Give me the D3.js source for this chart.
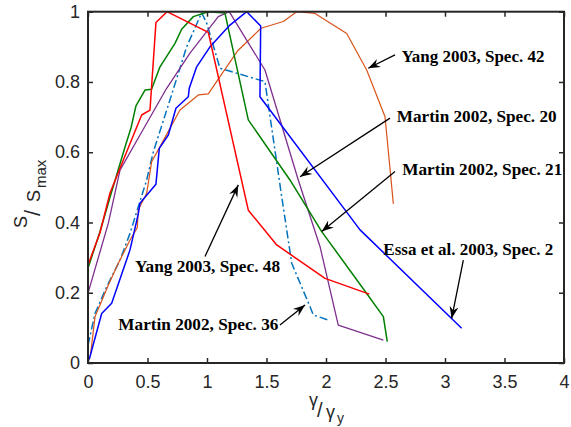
<!DOCTYPE html>
<html><head><meta charset="utf-8">
<script src="https://cdn.jsdelivr.net/npm/d3@7"></script>
<style>body{margin:0;background:#fff}svg{display:block}</style>
</head><body>
<svg id="c" width="571" height="427"></svg>
<script>
// ---- data (gamma/gamma_y , S/Smax) ----
const yang48 = [[0,0.279],[0.10,0.37],[0.185,0.484],[0.297,0.578],[0.451,0.706],[0.521,0.72],[0.571,0.969],[0.664,1.0],[1.011,0.941],[1.347,0.435],[1.586,0.336],[1.992,0.241],[2.364,0.196]];
const martin21 = [[0,0.27],[0.10,0.373],[0.185,0.472],[0.311,0.615],[0.361,0.669],[0.403,0.732],[0.479,0.777],[0.534,0.779],[0.605,0.843],[0.731,0.91],[0.787,0.95],[0.885,0.986],[1.011,1.0],[1.151,0.996],[1.347,0.692],[1.697,0.521],[1.964,0.374],[2.342,0.198],[2.482,0.132],[2.515,0.061]];
const martin20 = [[0,0.199],[0.171,0.398],[0.269,0.549],[0.437,0.649],[0.661,0.782],[0.857,0.882],[1.095,0.986],[1.187,1.0],[1.487,0.834],[1.767,0.521],[1.95,0.331],[2.103,0.108],[2.482,0.065]];
const essa2 = [[0.01,0.01],[0.115,0.141],[0.199,0.17],[0.353,0.322],[0.423,0.425],[0.437,0.455],[0.507,0.483],[0.571,0.509],[0.599,0.611],[0.675,0.649],[0.739,0.725],[0.843,0.758],[0.851,0.782],[0.913,0.843],[1.025,0.9],[1.193,0.962],[1.334,1.0],[1.451,0.959],[1.445,0.758],[2.286,0.379],[3.14,0.099]];
const yang42 = [[0.02,0.02],[0.059,0.132],[0.101,0.165],[0.171,0.222],[0.255,0.284],[0.353,0.35],[0.414,0.385],[0.423,0.436],[0.493,0.483],[0.535,0.573],[0.605,0.616],[0.773,0.72],[0.927,0.763],[1.011,0.766],[1.109,0.815],[1.256,0.888],[1.454,0.953],[1.641,0.972],[1.754,1.0],[1.908,0.995],[2.174,0.938],[2.342,0.834],[2.496,0.701],[2.566,0.453]];
const martin36 = [[0,0.051],[0.059,0.141],[0.157,0.217],[0.269,0.293],[0.353,0.369],[0.493,0.521],[0.549,0.601],[0.689,0.749],[0.829,0.9],[0.955,0.997],[0.997,0.968],[1.109,0.839],[1.487,0.801],[1.628,0.473],[1.712,0.284],[1.866,0.16],[1.893,0.137],[2.019,0.122]];

const xTicks = [0,0.5,1,1.5,2,2.5,3,3.5,4];
const yTicks = [0,0.2,0.4,0.6,0.8,1];
const xTickLabels = ["0","0.5","1","1.5","2","2.5","3","3.5","4"];
const yTickLabels = ["0","0.2","0.4","0.6","0.8","1"];

// annotations: label, text anchor (data), arrow tail (data), arrow tip (data)
const annLabels = ["Yang 2003, Spec. 42","Martin 2002, Spec. 20","Martin 2002, Spec. 21","Essa et al. 2003, Spec. 2","Yang 2003, Spec. 48","Martin 2002, Spec. 36"];
const annText = [[2.634,0.858],[2.594,0.687],[2.641,0.535],[2.482,0.307],[0.395,0.26],[0.255,0.094]];
const annTail = [[2.58,0.877],[2.538,0.697],[2.58,0.545],[3.154,0.293],[0.983,0.303],[1.613,0.108]];
const annTip  = [[2.355,0.839],[1.782,0.53],[1.964,0.374],[3.056,0.127],[1.263,0.507],[1.824,0.165]];
const annWidth = [143,160,160,170,145,160];

// ---- drawing ----
const svg = d3.select("#c");
const x = d3.scaleLinear().domain([0,4]).range([88,564]);
const y = d3.scaleLinear().domain([0,1]).range([363,11.7]);
const axisColor = "#262626";

const series = [
  {d: martin36, c:"#0072bd", w:1.5, dash:"8,3,2,3"},
  {d: yang42,   c:"#d95319", w:1.2, dash:null},
  {d: martin20, c:"#7e2f8e", w:1.3, dash:null},
  {d: martin21, c:"#008000", w:1.5, dash:null},
  {d: essa2,    c:"#0000ff", w:1.5, dash:null},
  {d: yang48,   c:"#ff0000", w:1.5, dash:null}
];
const line = d3.line().x(d=>x(d[0])).y(d=>y(d[1]));
series.forEach(s=>{
  svg.append("path").attr("d", line(s.d)).attr("fill","none")
    .attr("stroke", s.c).attr("stroke-width", s.w)
    .attr("stroke-dasharray", s.dash).attr("stroke-linejoin","round");
});

// axes
function styleAxis(g){
  g.select(".domain").remove();
  g.selectAll(".tick line").attr("stroke",axisColor).attr("stroke-width",1.5);
  g.selectAll(".tick text").attr("fill",axisColor)
    .attr("font-family","'Liberation Sans', Arial, sans-serif").attr("font-size",18);
}
svg.append("g").attr("transform","translate(0,363)")
  .call(d3.axisBottom(x).tickValues(xTicks).tickFormat((d,i)=>xTickLabels[i]).tickSizeInner(-5).tickSizeOuter(0).tickPadding(12))
  .call(styleAxis);
svg.append("g").attr("transform","translate(0,11.7)")
  .call(d3.axisTop(x).tickValues(xTicks).tickFormat("").tickSizeInner(-5).tickSizeOuter(0))
  .call(styleAxis);
svg.append("g").attr("transform","translate(88,0)")
  .call(d3.axisLeft(y).tickValues(yTicks).tickFormat((d,i)=>yTickLabels[i]).tickSizeInner(-5).tickSizeOuter(0).tickPadding(8))
  .call(styleAxis);
svg.append("g").attr("transform","translate(564,0)")
  .call(d3.axisRight(y).tickValues(yTicks).tickFormat("").tickSizeInner(-5).tickSizeOuter(0))
  .call(styleAxis);
svg.append("rect").attr("x",x(0)).attr("y",y(1)).attr("width",x(4)-x(0)).attr("height",y(0)-y(1))
  .attr("fill","none").attr("stroke",axisColor).attr("stroke-width",2);

// arrow marker
svg.append("defs").append("marker").attr("id","ah").attr("viewBox","-12 -6 14 12")
  .attr("markerWidth",14).attr("markerHeight",12).attr("refX",0).attr("refY",0)
  .attr("markerUnits","userSpaceOnUse").attr("orient","auto")
  .append("path").attr("d","M0,0 L-12,-4.5 L-8,0 L-12,4.5 Z").attr("fill","#000");

annLabels.forEach((t,i)=>{
  svg.append("line").attr("x1",x(annTail[i][0])).attr("y1",y(annTail[i][1]))
    .attr("x2",x(annTip[i][0])).attr("y2",y(annTip[i][1]))
    .attr("stroke","#000").attr("stroke-width",1.3).attr("marker-end","url(#ah)");
  svg.append("text").attr("x",x(annText[i][0])).attr("y",y(annText[i][1]))
    .attr("font-family","'Liberation Serif','Times New Roman',serif").attr("font-weight","bold")
    .attr("font-size",17).attr("fill","#000")
    .attr("textLength",annWidth[i]).attr("lengthAdjust","spacingAndGlyphs").text(t);
});

// axis titles
const lf = "'Liberation Sans', Arial, sans-serif";
const xl = svg.append("g").attr("fill",axisColor).attr("font-family",lf);
xl.append("text").attr("x",309).attr("y",406).attr("font-size",18).text("γ");
xl.append("text").attr("x",317).attr("y",417).attr("font-size",20).text("/");
xl.append("text").attr("x",326).attr("y",418).attr("font-size",18).text("γ");
xl.append("text").attr("x",337).attr("y",423).attr("font-size",14).text("y");

const yl = svg.append("g").attr("transform","rotate(-90)").attr("fill",axisColor).attr("font-family",lf);
yl.append("text").attr("x",-228).attr("y",27).attr("font-size",18).text("S");
yl.append("text").attr("x",-216).attr("y",40).attr("font-size",22).text("/");
yl.append("text").attr("x",-202).attr("y",40).attr("font-size",18).text("S");
yl.append("text").attr("x",-188).attr("y",46).attr("font-size",15).text("max");
</script>
</body></html>
